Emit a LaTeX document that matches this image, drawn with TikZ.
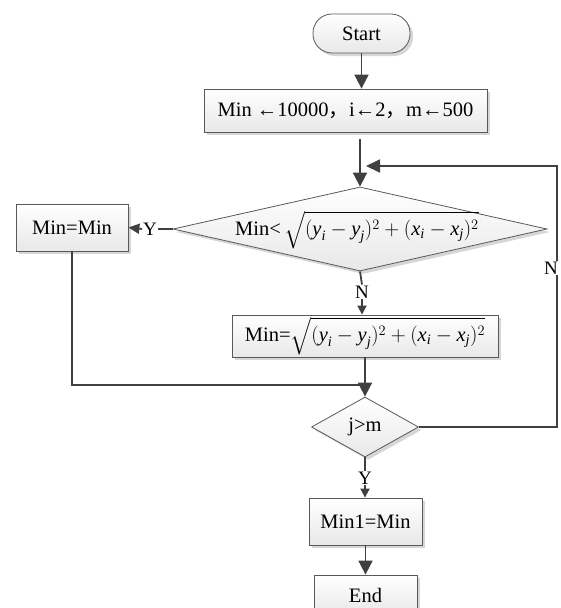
\documentclass[tikz,border=0pt]{standalone}
\usepackage{amsmath}
\usepackage{fontspec}
\setmainfont{Liberation Serif}
\newfontfamily\cjk{Noto Sans CJK SC}
\usetikzlibrary{shapes.geometric,arrows.meta,shadows}
\newcommand{\vv}[1]{\textit{#1}}
\newcommand{\cm}{{\cjk ，}}
\newcommand{\dist}{\sqrt{(\vv{y}_{\vv{i}}-\vv{y}_{\vv{j}})^2+(\vv{x}_{\vv{i}}-\vv{x}_{\vv{j}})^2}}
\tikzset{
  conn/.style={draw=black!75, line width=1.8pt},
  bigarr/.style={conn, -{Triangle[width=14pt,length=14pt]}},
  smallarr/.style={conn, -{Triangle[width=9pt,length=9pt]}},
  shp/.style={draw=black!65, line width=0.8pt, top color=white, bottom color=black!9,
    drop shadow={shadow xshift=3pt, shadow yshift=-3pt, fill=black!16, opacity=1},
    inner sep=0pt, font=\fontsize{20.5}{24}\selectfont},
  box/.style={shp, rectangle},
  dia/.style={shp, diamond},
  lab/.style={fill=white, inner sep=1pt, font=\fontsize{19}{21}\selectfont},
  txt/.style={inner sep=0pt, font=\fontsize{20.5}{24}\selectfont}
}
\begin{document}
\begin{tikzpicture}[x=1pt,y=-1pt]
\useasboundingbox (0,0) rectangle (560,608);
\clip (0,0) rectangle (560,608);
% nodes
\node[box, rounded corners=19pt, minimum width=97pt, minimum height=39pt] (start) at (361.5,33.5) {Start};
\node[box, minimum width=283pt, minimum height=43pt] (init) at (345.5,110.5) {Min ←10000\cm i←2\cm m←500};
\node[dia, minimum width=374pt, minimum height=84pt] (d1) at (360,229) {};
\node[txt] (d1t) at (357,230) {Min<\,$\dist$};
\node[box, minimum width=112pt, minimum height=47pt] (mm) at (72,227.5) {Min=Min};
\node[box, minimum width=266pt, minimum height=42pt] (upd) at (365,336) {Min=$\dist$};
\node[dia, minimum width=107pt, minimum height=60pt] (d2) at (365,427) {};
\node[txt] (d2t) at (365,427) {j>m};
\node[box, minimum width=113pt, minimum height=47pt] (min1) at (365.5,521.5) {Min1=Min};
\node[box, minimum width=103pt, minimum height=40pt] (end) at (365.5,595) {End};
% label nodes
\node[lab] (ylab) at (150,229) {Y};
\node[lab] (n1) at (362,292) {N};
\node[lab] (y2) at (365,478) {Y};
% helper coordinates
\coordinate (rt) at (557,166);
\coordinate (join) at (365,385);
% connectors
\draw[bigarr] (start.south) -- (start.south |- init.north);
\draw[bigarr, shorten <=7pt] (d1.north |- init.south) -- (d1.north);
\draw[conn, -{Triangle[width=13pt,length=14pt]}] (d2.east) -| (rt) -- ([xshift=6pt]d1.north |- rt);
\node[lab, inner sep=0.5pt] (nright) at (551,268) {N};
\draw[conn] (d1.west) -- (ylab.east);
\draw[conn, -{Triangle[width=10pt,length=11pt]}] (ylab.west) -- (mm.east);
\draw[conn] (d1.south) -- (n1.north);
\draw[smallarr] (n1.south) -- (upd.north -| n1.south);
\draw[conn] (mm.south) |- (join);
\draw[bigarr] (upd.south -| d2.north) -- (d2.north);
\draw[conn] (d2.south) -- (y2.north);
\draw[smallarr] (y2.south) -- (min1.north -| y2.south);
\draw[bigarr] (min1.south) -- (end.north);
\end{tikzpicture}
\end{document}
